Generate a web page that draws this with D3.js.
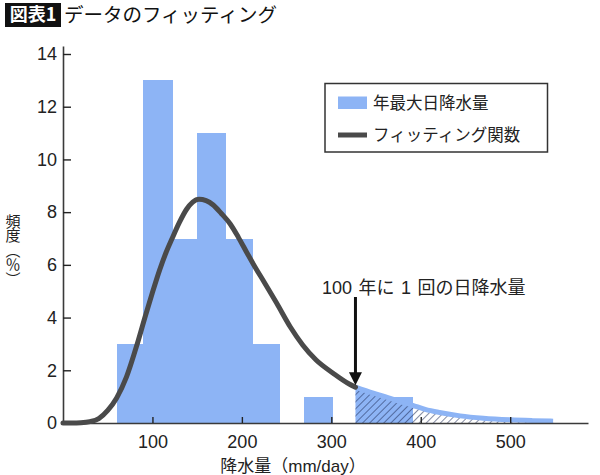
<!DOCTYPE html>
<html><head><meta charset="utf-8">
<script src="https://cdn.jsdelivr.net/npm/d3@7"></script>
<style>
html,body{margin:0;padding:0;background:#fff;}
svg{display:block;}
</style></head>
<body>
<svg id="chart" width="600" height="475"></svg>
<script>
// ---- data ----
const binStart = [60, 90, 122, 150, 182, 212, 269, 360];
const binEnd   = [90, 122, 150, 182, 212, 242, 301, 391];
const freq     = [3, 13, 7, 11, 7, 3, 1, 1];

const fitX = [0, 10, 20, 30, 40, 50, 60, 71, 83, 92, 100, 108, 115, 122, 130, 138, 145, 152, 160, 168, 177, 187, 196, 205, 215, 224, 239, 254, 268, 283, 302, 320, 327, 347, 360, 375, 391, 405, 421, 444, 470, 500, 525, 548];
const fitY = [0, 0, 0.01, 0.05, 0.17, 0.48, 0.95, 1.75, 3.0, 4.05, 4.95, 5.8, 6.45, 7.0, 7.6, 8.1, 8.38, 8.49, 8.44, 8.27, 7.95, 7.55, 7.05, 6.5, 5.9, 5.4, 4.54, 3.65, 2.96, 2.39, 1.89, 1.48, 1.36, 1.13, 1.0, 0.83, 0.67, 0.52, 0.40, 0.27, 0.18, 0.12, 0.09, 0.07];

const xTicks = [100, 200, 300, 400, 500];
const yTicks = [0, 2, 4, 6, 8, 10, 12, 14];
const tailStart = 327;      // 100年に1回の日降水量
const tailFillEnd = 360;
const legendLabels = ["年最大日降水量", "フィッティング関数"];
const titleTag = "図表1";
const titleText = "データのフィッティング";
const xTitle = "降水量（mm/day）";
const yTitle = "頻度（％）";
const annotation = "100 年に 1 回の日降水量";

// ---- setup ----
const svg = d3.select("#chart");
const BLUE = "#8db4f5", CURVE = "#4a4a4a", TXT = "#222";
const LATIN = "'Liberation Sans', Arial, 'Noto Sans CJK JP', sans-serif";
const CJK = "'Noto Sans CJK JP', sans-serif";

const x = d3.scaleLinear().domain([0, 587]).range([63, 588]);
const y = d3.scaleLinear().domain([0, 14.3]).range([423, 423 - 14.3 * (369 / 14)]);

const pts = fitX.map((v, i) => [v, fitY[i]]);

// hatch pattern
const defs = svg.append("defs");
const pat = defs.append("pattern").attr("id", "hatch")
  .attr("patternUnits", "userSpaceOnUse").attr("width", 5).attr("height", 5)
  .attr("patternTransform", "rotate(45)");
pat.append("line").attr("x1", 0).attr("y1", 0).attr("x2", 0).attr("y2", 5)
  .attr("stroke", "#1f2c55").attr("stroke-width", 1.1);

// bars
svg.append("g").attr("shape-rendering", "crispEdges")
  .selectAll("rect").data(freq).join("rect")
  .attr("x", (d, i) => x(binStart[i]))
  .attr("width", (d, i) => x(binEnd[i]) - x(binStart[i]) + 0.5)
  .attr("y", d => y(d))
  .attr("height", d => y(0) - y(d))
  .attr("fill", BLUE);

// tail fill (blue) between tailStart and tailFillEnd
const area = d3.area().x(d => x(d[0])).y0(y(0)).y1(d => y(d[1])).curve(d3.curveMonotoneX);
const tailPts = pts.filter(d => d[0] >= tailStart);
svg.append("path").datum(pts.filter(d => d[0] >= tailStart && d[0] <= tailFillEnd))
  .attr("d", area).attr("fill", BLUE);
// hatch over the tail area
svg.append("path").datum(tailPts).attr("d", area).attr("fill", "url(#hatch)");

const line = d3.line().x(d => x(d[0])).y(d => y(d[1])).curve(d3.curveMonotoneX);
// tail band
svg.append("path").datum(tailPts).attr("d", line)
  .attr("fill", "none").attr("stroke", BLUE).attr("stroke-width", 5);

// axes
const yAxis = d3.axisLeft(y).tickValues(yTicks).tickSize(-8).tickSizeOuter(0).tickPadding(6);
const gy = svg.append("g").attr("transform", `translate(${x(0)},0)`).call(yAxis);
const xAxis = d3.axisBottom(x).tickValues(xTicks).tickSize(-6).tickSizeOuter(0).tickPadding(12);
const gx = svg.append("g").attr("transform", `translate(0,${y(0)})`).call(xAxis);
[gx, gy].forEach(g => {
  g.select(".domain").attr("stroke", "#3a3a3a").attr("stroke-width", 1.6);
  g.selectAll(".tick line").attr("stroke", "#222").attr("stroke-width", 1.4);
  g.selectAll(".tick text").attr("font-family", LATIN).attr("font-size", 18).attr("fill", TXT);
});

// fitted curve (dark part)
svg.append("path").datum(pts.filter(d => d[0] <= tailStart)).attr("d", line)
  .attr("fill", "none").attr("stroke", CURVE).attr("stroke-width", 5)
  .attr("stroke-linecap", "round");

// arrow
const ax = x(tailStart);
const tipY = y(fitY[fitX.indexOf(tailStart)]) - 2;
svg.append("line").attr("x1", ax).attr("x2", ax).attr("y1", 297).attr("y2", tipY - 10)
  .attr("stroke", "#111").attr("stroke-width", 3);
svg.append("path").attr("d", `M${ax - 6.5},${tipY - 13}L${ax + 6.5},${tipY - 13}L${ax},${tipY}Z`)
  .attr("fill", "#111");
svg.append("text").attr("x", 322).attr("y", 293.5).text(annotation)
  .attr("font-family", LATIN).attr("font-size", 18).attr("word-spacing", 1.5).attr("fill", TXT);

// legend
const lg = svg.append("g");
lg.append("rect").attr("x", 325).attr("y", 83.5).attr("width", 222.5).attr("height", 68.5)
  .attr("fill", "#fff").attr("stroke", "#333").attr("stroke-width", 1.5);
lg.append("rect").attr("x", 338).attr("y", 96.5).attr("width", 29).attr("height", 12.5).attr("fill", BLUE);
lg.append("line").attr("x1", 338).attr("x2", 367).attr("y1", 135).attr("y2", 135)
  .attr("stroke", CURVE).attr("stroke-width", 5);
lg.selectAll("text.lab").data(legendLabels).join("text").attr("class", "lab")
  .attr("x", 373).attr("y", (d, i) => i === 0 ? 103 : 135).attr("dy", "0.35em")
  .attr("font-family", CJK).attr("font-size", 16.5).attr("fill", TXT).text(d => d);

// x title
svg.append("text").attr("x", 293).attr("y", 472).attr("text-anchor", "middle")
  .attr("font-family", LATIN).attr("font-size", 17).attr("fill", TXT).text(xTitle);

// y title (vertical writing)
svg.append("text").attr("x", 13).attr("y", 250).attr("text-anchor", "middle")
  .style("writing-mode", "vertical-rl")
  .attr("letter-spacing", -0.5)
  .attr("font-family", CJK).attr("font-size", 15).attr("fill", TXT).text(yTitle);

// title
svg.append("rect").attr("x", 5).attr("y", 3).attr("width", 56).attr("height", 24).attr("fill", "#111");
svg.append("text").attr("x", 33).attr("y", 15).attr("dy", "0.36em").attr("text-anchor", "middle")
  .attr("font-family", CJK).attr("font-weight", 700).attr("font-size", 18).attr("fill", "#fff").text(titleTag);
svg.append("text").attr("x", 64).attr("y", 15).attr("dy", "0.36em")
  .attr("font-family", CJK).attr("font-weight", 400).attr("font-size", 19.5).attr("fill", "#111").text(titleText);
</script>
</body></html>
